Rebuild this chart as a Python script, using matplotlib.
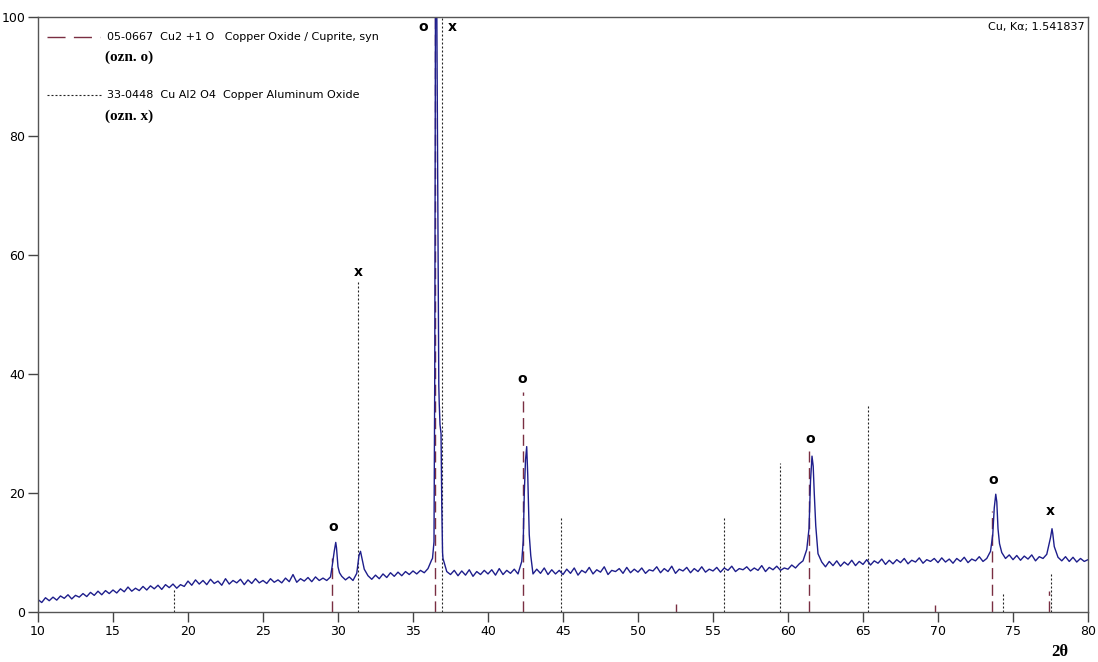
import numpy as np
import matplotlib.pyplot as plt

two_theta = np.arange(10, 80.001, 0.25)
intensity = [
    2.1, 1.6, 2.4, 1.9, 2.5, 2.0, 2.7, 2.3, 2.9, 2.2, 2.8, 2.5, 3.1, 2.6, 3.3, 2.8, 3.5, 2.9, 3.6, 3.1,
    3.7, 3.2, 3.9, 3.4, 4.2, 3.5, 4.0, 3.6, 4.3, 3.7, 4.4, 3.9, 4.5, 3.8, 4.6, 4.1, 4.7, 4.0, 4.6, 4.3,
    5.2, 4.5, 5.4, 4.7, 5.3, 4.6, 5.5, 4.8, 5.2, 4.5, 5.6, 4.7, 5.3, 4.9, 5.5, 4.6, 5.4, 4.8, 5.6, 4.9,
    5.3, 4.8, 5.6, 5.0, 5.4, 4.9, 5.7, 5.1, 6.3, 5.0, 5.6, 5.2, 5.8, 5.1, 5.9, 5.3, 5.7, 5.3, 5.9, 10.2,
    7.6, 6.0, 5.4, 5.9, 5.3, 6.5, 10.2, 7.2, 6.1, 5.5, 6.2, 5.6, 6.4, 5.8, 6.6, 6.0, 6.7, 6.1, 6.8, 6.3,
    6.9, 6.4, 7.0, 6.6, 7.3, 8.8, 104, 35, 9.0, 6.8, 6.3, 7.0, 6.1, 6.9, 6.2, 7.1, 6.0, 6.8, 6.3, 7.0,
    6.4, 7.1, 6.2, 7.3, 6.3, 7.0, 6.5, 7.2, 6.4, 8.5, 25.5, 13.0, 6.4, 7.2, 6.5, 7.4, 6.3, 7.1, 6.4, 7.0,
    6.3, 7.2, 6.5, 7.4, 6.2, 7.0, 6.6, 7.5, 6.4, 7.1, 6.7, 7.6, 6.3, 7.0, 6.8, 7.3, 6.5, 7.5, 6.6, 7.2,
    6.7, 7.4, 6.5, 7.1, 6.9, 7.6, 6.6, 7.3, 6.8, 7.7, 6.5, 7.2, 6.9, 7.5, 6.6, 7.3, 6.8, 7.6, 6.7, 7.2,
    6.9, 7.5, 6.7, 7.4, 7.0, 7.7, 6.8, 7.3, 7.1, 7.6, 6.9, 7.4, 7.0, 7.8, 6.8, 7.5, 7.1, 7.7, 7.0, 7.4,
    7.2, 7.9, 7.4, 8.1, 8.6, 10.5, 22.0, 20.0, 9.8, 8.4, 7.6, 8.5, 7.8, 8.6, 7.7, 8.4, 7.9, 8.7, 7.8, 8.5,
    8.0, 8.8, 7.9, 8.6, 8.2, 8.9, 8.0, 8.7, 8.1, 8.8, 8.3, 9.0, 8.1, 8.7, 8.4, 9.1, 8.2, 8.8, 8.5, 9.0,
    8.3, 9.1, 8.4, 8.9, 8.2, 9.0, 8.5, 9.2, 8.3, 8.9, 8.6, 9.3, 8.5, 9.0, 10.2, 17.5, 14.0, 10.0, 9.0, 9.6,
    8.8, 9.5, 8.7, 9.4, 8.9, 9.6, 8.6, 9.3, 9.0, 9.7, 12.5, 11.0, 9.2, 8.6, 9.3, 8.5, 9.2, 8.4, 9.0, 8.5,
    8.8,
]
# extra points on the peak flanks
peak_theta = [29.6, 29.85, 29.9, 30.1, 31.4, 31.6,
              36.3, 36.4, 36.45, 36.58, 36.65, 36.72, 36.8, 36.87, 36.92, 36.97,
              42.35, 42.42, 42.58, 42.65, 42.85,
              61.4, 61.6, 61.68, 61.85,
              73.65, 73.85, 73.92, 74.1,
              77.6, 77.65]
peak_int = [7.5, 11.7, 10.8, 6.6, 9.5, 9.0,
            9.0, 11.8, 40, 105, 70, 38, 31.5, 30, 17.5, 10,
            12, 20, 27.8, 23, 9.5,
            14, 26.2, 24.5, 14.5,
            13, 19.8, 18.5, 11.5,
            14.0, 13.2]

# reference patterns (stick lines)
cuprite_pos = [29.62, 36.48, 42.32, 52.55, 61.42, 69.8, 73.62, 77.38]
cuprite_int = [9, 100, 37, 1.3, 27, 1.2, 17, 3.5]
cual_pos = [19.05, 31.35, 36.95, 44.9, 55.7, 59.45, 65.3, 74.3, 77.55]
cual_int = [4, 55.5, 100, 16, 16, 25, 35, 3, 6.5]

# phase marks above the peaks
o_marks_x = [29.7, 35.7, 42.3, 61.5, 73.7]
o_marks_y = [14.3, 98.3, 39.2, 29.1, 22.2]
x_marks_x = [31.35, 37.65, 77.5]
x_marks_y = [57.1, 98.3, 16.9]

x_all = np.concatenate([two_theta, peak_theta])
y_all = np.concatenate([intensity, peak_int])
order = np.argsort(x_all, kind='stable')
x_all = x_all[order]
y_all = y_all[order]

cuprite_color = '#7a2e42'
scan_color = '#1e1e8c'

fig = plt.figure(figsize=(10.98, 6.62), dpi=100)
ax = fig.add_axes([0.0346, 0.0755, 0.9563, 0.8988])

ax.vlines(cuprite_pos, 0, cuprite_int, color=cuprite_color, lw=1,
          linestyles=(0, (8, 4)), zorder=1)
ax.vlines(cual_pos, 0, cual_int, color='#222222', lw=0.8,
          linestyles=(0, (1.8, 1.8)), zorder=1)
ax.plot(x_all, y_all, color=scan_color, lw=1.0, zorder=2)

for xm, ym in zip(o_marks_x, o_marks_y):
    ax.text(xm, ym, 'o', ha='center', va='center', fontsize=10, fontweight='bold')
for xm, ym in zip(x_marks_x, x_marks_y):
    ax.text(xm, ym, 'x', ha='center', va='center', fontsize=10, fontweight='bold')

# legend drawn by hand like the original software
ax.plot([0.0086, 0.059], [0.966, 0.966], transform=ax.transAxes,
        color=cuprite_color, lw=1, ls=(0, (13, 6)))
ax.text(0.066, 0.966, '05-0667  Cu2 +1 O   Copper Oxide / Cuprite, syn',
        transform=ax.transAxes, va='center', fontsize=8)
ax.text(0.064, 0.933, '(ozn. o)', transform=ax.transAxes, va='center',
        fontsize=11, fontweight='bold', family='Liberation Serif')
ax.plot([0.0086, 0.062], [0.869, 0.869], transform=ax.transAxes,
        color='#222222', lw=0.8, ls=(0, (1.8, 1.8)))
ax.text(0.066, 0.869, '33-0448  Cu Al2 O4  Copper Aluminum Oxide',
        transform=ax.transAxes, va='center', fontsize=8)
ax.text(0.064, 0.834, '(ozn. x)', transform=ax.transAxes, va='center',
        fontsize=11, fontweight='bold', family='Liberation Serif')
ax.text(0.997, 0.984, 'Cu, K\u03b1; 1.541837', transform=ax.transAxes,
        ha='right', va='center', fontsize=8)

ax.set_xlim(10, 80)
ax.set_ylim(0, 100)
ax.set_xticks(range(10, 81, 5))
ax.set_yticks(range(0, 101, 20))
ax.tick_params(direction='out', length=7, width=1, color='#444444',
               labelsize=9, pad=2)
for s in ax.spines.values():
    s.set_color('#555555')
    s.set_linewidth(1)

fig.text(0.965, 0.003, '2\u03b8', fontsize=12, fontweight='bold',
         family='Liberation Serif', ha='center', va='bottom')

plt.savefig('out.png', dpi=100)
plt.close()
